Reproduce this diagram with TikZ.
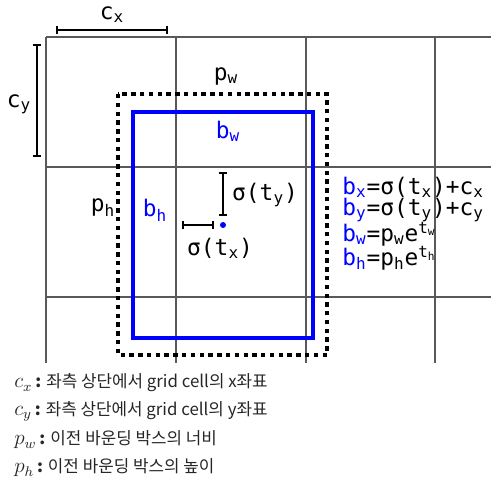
\documentclass[tikz,border=0pt]{standalone}
\usepackage{fontspec}
\setmainfont{DejaVu Sans}
\setmonofont{DejaVu Sans Mono}
\newfontfamily\krfont{Noto Sans CJK KR}
\usetikzlibrary{arrows.meta}

\newcommand{\notevar}[1]{{\fontsize{11.5}{11}\selectfont$#1$}}

\tikzset{
  lbl/.style={inner sep=0pt,font=\ttfamily\fontsize{13}{15}\selectfont},
  note/.style={inner sep=0pt,anchor=west,text=black!85,font=\krfont\fontsize{9.6}{11}\selectfont},
  gridline/.style={draw=black!65,line width=0.8pt},
  span/.style={line width=1.1pt,{Bar[width=5pt]}-{Bar[width=5pt]}}
}

\begin{document}
\begin{tikzpicture}[x=0.02cm,y=-0.02cm]
        \useasboundingbox (0,0) rectangle (500,494);
        % 격자
        \foreach \gx in {46,176,306,435}
          \draw[gridline] (\gx,37)--(\gx,363);
        \foreach \gy in {37,167,297}
          \draw[gridline] (46,\gy)--(491,\gy);
        % 이전 박스 / 예측 박스
        \draw[line width=2.5pt,dash pattern=on 2.5pt off 2.5pt] (118,94) rectangle (327,355);
        \draw[blue,line width=2.8pt] (133,112) rectangle (313,338);
        % 셀 크기
        \coordinate (cxa) at (56,30);
        \coordinate (cxb) at (168,30);
        \coordinate (cya) at (37,44);
        \coordinate (cyb) at (37,157);
        \draw[span] (cxa)--(cxb);
        \draw[span] (cya)--(cyb);
        \node[lbl] (cx) at (112,15) {c\textsubscript{x}};
        \node[lbl] (cy) at (19,104) {c\textsubscript{y}};
        % 박스 라벨
        \node[lbl] (pw) at (226,76) {p\textsubscript{w}};
        \node[lbl,text=blue] (bw) at (228,131) {b\textsubscript{w}};
        \node[lbl] (ph) at (103,208) {p\textsubscript{h}};
        \node[lbl,text=blue] (bh) at (155,210) {b\textsubscript{h}};
        % 중심점 오프셋
        \fill[blue] (223,225) circle[radius=3] coordinate (ctr);
        \coordinate (tya) at (223,172);
        \coordinate (tyb) at (223,216);
        \coordinate (txa) at (182,225);
        \coordinate (txb) at (214,225);
        \draw[span] (tya)--(tyb);
        \draw[span] (txa)--(txb);
        \node[lbl] (sty) at (265,195) {σ(t\textsubscript{y})};
        \node[lbl] (stx) at (220,248) {σ(t\textsubscript{x})};
        % 식
        \node[lbl,anchor=west] (eqx) at (342,187) {\textcolor{blue}{b\textsubscript{x}}=σ(t\textsubscript{x})+c\textsubscript{x}};
        \node[lbl,anchor=west] (eqy) at (342,210) {\textcolor{blue}{b\textsubscript{y}}=σ(t\textsubscript{y})+c\textsubscript{y}};
        \node[lbl,anchor=west] (eqw) at (342,234) {\textcolor{blue}{b\textsubscript{w}}=p\textsubscript{w}e\textsuperscript{t\textsubscript{w}}};
        \node[lbl,anchor=west] (eqh) at (342,258) {\textcolor{blue}{b\textsubscript{h}}=p\textsubscript{h}e\textsuperscript{t\textsubscript{h}}};
        % 설명
        \node[note] (ncx) at (14,383) {\notevar{c_x}\,\textbf{:} 좌측 상단에서 grid cell의 x좌표};
        \node[note] (ncy) at (14,411) {\notevar{c_y}\,\textbf{:} 좌측 상단에서 grid cell의 y좌표};
        \node[note] (npw) at (14,440) {\notevar{p_w}\,\textbf{:} 이전 바운딩 박스의 너비};
        \node[note] (nph) at (14,468) {\notevar{p_h}\,\textbf{:} 이전 바운딩 박스의 높이};
\end{tikzpicture}
\end{document}
